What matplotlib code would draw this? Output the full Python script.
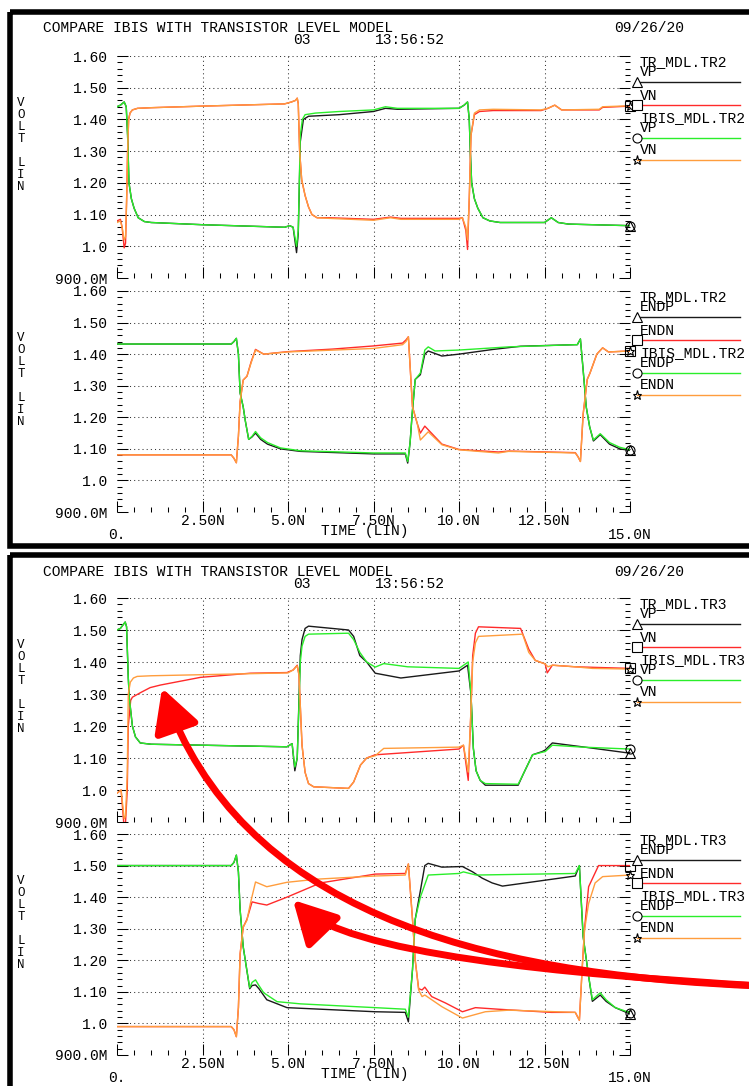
import matplotlib
matplotlib.use("Agg")
import matplotlib.pyplot as plt
from matplotlib.patches import Rectangle, FancyArrowPatch
from matplotlib.path import Path
from matplotlib.lines import Line2D
from matplotlib.ticker import MultipleLocator
from matplotlib.transforms import Affine2D

W, H = 749, 1086
plt.rcParams["font.family"] = ["Liberation Mono", "DejaVu Sans Mono"]

# ---- chart text ----
title = "COMPARE IBIS WITH TRANSISTOR LEVEL MODEL"
date_str = "09/26/20"
time_str = "13:56:52"
run_str = "03"
y_ticks = [0.9, 1.0, 1.1, 1.2, 1.3, 1.4, 1.5, 1.6]
y_labels = ["900.0M", "1.0", "1.10", "1.20", "1.30", "1.40", "1.50", "1.60"]
x_ticks = [0, 2.5, 5.0, 7.5, 10.0, 12.5, 15.0]
x_labels = ["\n0.", "2.50N", "5.0N", "7.50N", "10.0N", "12.50N", "\n15.0N"]

# ---- TR2, VP / VN (ns, V) ----
tr2_vp_t = [0, 0.1, 0.21, 0.27, 0.31, 0.35, 0.42, 0.5, 0.62, 0.8,
            1.0, 2.5, 4.9, 5.05, 5.15, 5.25, 5.3, 5.36, 5.45, 5.6,
            6.5, 7.5, 7.85, 8.2, 10.0, 10.15, 10.25, 10.3, 10.33, 10.37,
            10.45, 10.55, 10.7, 10.9, 11.2, 12.5, 12.7, 12.9, 13.2, 15.0]
tr2_vp_v = [1.44, 1.445, 1.455, 1.44, 1.35, 1.20, 1.15, 1.12, 1.09, 1.078,
            1.075, 1.068, 1.06, 1.065, 1.06, 0.98, 1.04, 1.33, 1.40, 1.41,
            1.415, 1.425, 1.435, 1.432, 1.435, 1.445, 1.455, 1.40, 1.30, 1.20,
            1.15, 1.12, 1.09, 1.08, 1.075, 1.075, 1.09, 1.075, 1.07, 1.065]
ibis2_vp_t = [0, 0.1, 0.21, 0.27, 0.31, 0.35, 0.42, 0.5, 0.62, 0.8,
              1.0, 2.5, 4.9, 5.05, 5.15, 5.25, 5.3, 5.36, 5.42, 5.5,
              5.8, 6.5, 7.5, 7.85, 8.2, 10.0, 10.15, 10.25, 10.3, 10.33,
              10.37, 10.45, 10.55, 10.7, 10.9, 11.2, 12.5, 12.7, 12.9, 13.2, 15.0]
ibis2_vp_v = [1.44, 1.445, 1.455, 1.44, 1.35, 1.20, 1.15, 1.12, 1.09, 1.078,
              1.075, 1.068, 1.06, 1.065, 1.06, 1.0, 1.05, 1.35, 1.40, 1.415,
              1.42, 1.425, 1.43, 1.44, 1.435, 1.435, 1.445, 1.455, 1.40, 1.30,
              1.20, 1.15, 1.12, 1.09, 1.08, 1.075, 1.075, 1.09, 1.075, 1.07, 1.065]
tr2_vn_t = [0, 0.1, 0.15, 0.21, 0.25, 0.28, 0.31, 0.34, 0.38, 0.45,
            0.6, 1.0, 2.5, 4.9, 5.1, 5.22, 5.27, 5.3, 5.34, 5.4,
            5.5, 5.6, 5.7, 5.85, 6.2, 7.5, 8.0, 8.3, 10.0, 10.1,
            10.2, 10.25, 10.3, 10.35, 10.45, 10.6, 11.0, 12.4, 12.6, 12.8,
            13.0, 14.1, 14.2, 15.0]
tr2_vn_v = [1.08, 1.085, 1.06, 0.995, 1.01, 1.14, 1.30, 1.40, 1.42, 1.43,
            1.435, 1.437, 1.442, 1.449, 1.455, 1.46, 1.467, 1.45, 1.30, 1.21,
            1.16, 1.124, 1.10, 1.09, 1.09, 1.085, 1.092, 1.088, 1.088, 1.09,
            1.05, 0.99, 1.15, 1.35, 1.415, 1.425, 1.428, 1.428, 1.435, 1.445,
            1.43, 1.43, 1.438, 1.442]
ibis2_vn_t = tr2_vn_t
ibis2_vn_v = [1.075, 1.08, 1.06, 1.02, 1.03, 1.14, 1.30, 1.40, 1.42, 1.43,
              1.435, 1.437, 1.442, 1.449, 1.455, 1.46, 1.467, 1.45, 1.30, 1.21,
              1.16, 1.124, 1.10, 1.09, 1.088, 1.082, 1.09, 1.085, 1.085, 1.09,
              1.06, 1.02, 1.15, 1.35, 1.42, 1.43, 1.432, 1.43, 1.435, 1.445,
              1.43, 1.432, 1.44, 1.443]

# ---- TR2, ENDP / ENDN ----
tr2_endp_t = [0, 3.34, 3.42, 3.49, 3.55, 3.6, 3.69, 3.75, 3.85, 3.95,
              4.05, 4.2, 4.4, 4.78, 5.36, 7.5, 8.43, 8.5, 8.57, 8.63,
              8.72, 8.87, 9.0, 9.1, 9.5, 10.0, 11.0, 11.8, 13.4, 13.46,
              13.55, 13.63, 13.72, 13.82, 13.93, 14.13, 14.4, 14.7, 15.0]
tr2_endp_v = [1.432, 1.432, 1.44, 1.45, 1.40, 1.277, 1.233, 1.19, 1.13, 1.138,
              1.15, 1.13, 1.115, 1.10, 1.092, 1.084, 1.084, 1.055, 1.12, 1.21,
              1.32, 1.335, 1.40, 1.41, 1.394, 1.40, 1.415, 1.425, 1.43, 1.43,
              1.448, 1.35, 1.233, 1.17, 1.125, 1.145, 1.115, 1.10, 1.095]
ibis2_endp_t = [0, 3.34, 3.42, 3.49, 3.55, 3.6, 3.69, 3.75, 3.85, 3.95,
                4.05, 4.2, 4.4, 4.78, 5.36, 7.5, 8.43, 8.5, 8.57, 8.63,
                8.72, 8.87, 9.0, 9.1, 9.3, 10.0, 11.45, 13.4, 13.46, 13.55,
                13.63, 13.72, 13.82, 13.93, 14.13, 14.4, 14.7, 15.0]
ibis2_endp_v = [1.432, 1.432, 1.44, 1.45, 1.40, 1.277, 1.233, 1.19, 1.13, 1.14,
                1.155, 1.135, 1.12, 1.103, 1.094, 1.087, 1.087, 1.06, 1.12, 1.21,
                1.32, 1.34, 1.413, 1.423, 1.41, 1.413, 1.423, 1.43, 1.43, 1.448,
                1.35, 1.233, 1.17, 1.128, 1.148, 1.12, 1.105, 1.097]
tr2_endn_t = [0, 3.34, 3.42, 3.49, 3.55, 3.6, 3.69, 3.8, 3.92, 4.05,
              4.29, 5.0, 6.3, 7.5, 8.35, 8.45, 8.52, 8.64, 8.78, 8.87,
              9.0, 9.5, 10.0, 11.15, 11.45, 13.4, 13.48, 13.55, 13.63, 13.75,
              13.83, 14.03, 14.2, 14.37, 15.0]
tr2_endn_v = [1.081, 1.081, 1.07, 1.056, 1.14, 1.25, 1.318, 1.33, 1.375, 1.415,
              1.40, 1.408, 1.416, 1.426, 1.435, 1.445, 1.455, 1.233, 1.18, 1.15,
              1.172, 1.115, 1.098, 1.09, 1.093, 1.088, 1.075, 1.06, 1.21, 1.32,
              1.34, 1.40, 1.42, 1.407, 1.41]
ibis2_endn_t = [0, 3.34, 3.42, 3.49, 3.55, 3.6, 3.69, 3.8, 3.92, 4.05,
                4.29, 5.0, 7.5, 8.35, 8.45, 8.52, 8.64, 8.78, 8.87, 9.1,
                9.5, 10.0, 11.15, 11.45, 13.4, 13.48, 13.55, 13.63, 13.75, 13.83,
                14.03, 14.2, 14.37, 15.0]
ibis2_endn_v = [1.081, 1.081, 1.07, 1.056, 1.14, 1.25, 1.318, 1.33, 1.372, 1.413,
                1.40, 1.407, 1.418, 1.43, 1.44, 1.455, 1.233, 1.18, 1.128, 1.154,
                1.113, 1.097, 1.087, 1.092, 1.087, 1.075, 1.06, 1.21, 1.32, 1.34,
                1.40, 1.42, 1.407, 1.41]

# ---- TR3, VP / VN ----
tr3_vp_t = [0, 0.1, 0.24, 0.28, 0.33, 0.36, 0.45, 0.54, 0.68, 1.0,
            2.5, 4.97, 5.12, 5.2, 5.27, 5.36, 5.41, 5.5, 5.6, 6.77,
            6.92, 7.1, 7.3, 7.55, 8.3, 10.0, 10.25, 10.35, 10.42, 10.5,
            10.62, 10.77, 11.73, 11.88, 12.15, 12.43, 12.52, 12.73, 13.6, 15.0]
tr3_vp_v = [1.50, 1.505, 1.525, 1.51, 1.35, 1.288, 1.20, 1.166, 1.147, 1.143,
            1.14, 1.135, 1.145, 1.06, 1.10, 1.42, 1.47, 1.505, 1.512, 1.50,
            1.48, 1.42, 1.40, 1.365, 1.35, 1.372, 1.39, 1.30, 1.13, 1.06,
            1.03, 1.015, 1.015, 1.05, 1.11, 1.12, 1.125, 1.147, 1.135, 1.115]
ibis3_vp_t = [0, 0.1, 0.24, 0.28, 0.33, 0.36, 0.45, 0.54, 0.68, 1.0,
              2.5, 4.97, 5.12, 5.2, 5.27, 5.36, 5.41, 5.5, 5.6, 6.77,
              6.92, 7.1, 7.3, 7.55, 7.8, 8.5, 10.0, 10.27, 10.35, 10.42,
              10.5, 10.62, 10.77, 11.73, 11.88, 12.15, 12.43, 12.52, 12.73, 13.6, 15.0]
ibis3_vp_v = [1.50, 1.505, 1.525, 1.51, 1.35, 1.288, 1.20, 1.166, 1.147, 1.143,
              1.14, 1.135, 1.145, 1.072, 1.10, 1.40, 1.45, 1.48, 1.487, 1.49,
              1.47, 1.43, 1.40, 1.384, 1.395, 1.385, 1.38, 1.40, 1.30, 1.13,
              1.06, 1.03, 1.02, 1.018, 1.05, 1.11, 1.118, 1.12, 1.14, 1.134, 1.128]
tr3_vn_t = [0, 0.12, 0.21, 0.25, 0.3, 0.33, 0.4, 0.45, 0.7, 0.97,
            1.27, 2.44, 3.9, 4.97, 5.15, 5.27, 5.32, 5.41, 5.5, 5.6,
            5.75, 6.77, 6.92, 7.12, 7.3, 7.55, 10.0, 10.13, 10.27, 10.35,
            10.4, 10.48, 10.57, 11.8, 12.04, 12.23, 12.52, 12.58, 12.73, 13.4, 15.0]
tr3_vn_v = [0.99, 1.0, 0.88, 0.90, 1.0, 1.20, 1.28, 1.29, 1.305, 1.32,
            1.328, 1.352, 1.365, 1.367, 1.375, 1.39, 1.36, 1.14, 1.055, 1.02,
            1.01, 1.005, 1.025, 1.078, 1.10, 1.11, 1.128, 1.14, 1.03, 1.25,
            1.42, 1.49, 1.51, 1.505, 1.44, 1.405, 1.394, 1.366, 1.39, 1.385, 1.38]
ibis3_vn_t = [0, 0.12, 0.21, 0.25, 0.3, 0.33, 0.39, 0.48, 0.59, 1.0,
              5.0, 5.15, 5.27, 5.32, 5.41, 5.5, 5.6, 5.75, 6.77, 6.92,
              7.12, 7.3, 7.55, 7.8, 10.0, 10.13, 10.27, 10.35, 10.4, 10.48,
              10.57, 11.86, 12.04, 12.23, 12.52, 12.6, 12.73, 13.4, 13.9, 15.0]
ibis3_vn_v = [0.99, 1.0, 0.91, 0.92, 1.05, 1.30, 1.337, 1.35, 1.355, 1.357,
              1.366, 1.375, 1.388, 1.36, 1.14, 1.055, 1.02, 1.01, 1.005, 1.025,
              1.078, 1.10, 1.107, 1.13, 1.134, 1.14, 1.056, 1.25, 1.40, 1.46,
              1.48, 1.487, 1.43, 1.405, 1.394, 1.385, 1.39, 1.385, 1.38, 1.378]

# ---- TR3, ENDP / ENDN ----
tr3_endp_t = [0, 3.34, 3.42, 3.49, 3.55, 3.6, 3.69, 3.78, 3.88, 3.95,
              4.05, 4.15, 4.38, 4.97, 7.55, 8.43, 8.52, 8.64, 8.72, 8.87,
              9.0, 9.1, 9.5, 10.1, 10.4, 10.68, 10.97, 11.27, 11.94, 13.4,
              13.52, 13.63, 13.79, 13.9, 14.13, 14.3, 14.57, 15.0]
tr3_endp_v = [1.50, 1.50, 1.51, 1.533, 1.48, 1.36, 1.243, 1.18, 1.11, 1.12,
              1.122, 1.11, 1.075, 1.05, 1.037, 1.035, 1.005, 1.17, 1.33, 1.42,
              1.50, 1.507, 1.495, 1.497, 1.48, 1.46, 1.445, 1.435, 1.445, 1.467,
              1.50, 1.275, 1.15, 1.07, 1.09, 1.07, 1.05, 1.03]
ibis3_endp_t = [0, 3.34, 3.42, 3.49, 3.55, 3.6, 3.69, 3.78, 3.88, 3.95,
                4.05, 4.15, 4.29, 4.68, 5.36, 7.55, 8.43, 8.52, 8.64, 8.72,
                8.87, 9.1, 10.0, 10.13, 10.5, 13.4, 13.52, 13.63, 13.79, 13.9,
                14.13, 14.3, 14.57, 15.0]
ibis3_endp_v = [1.50, 1.50, 1.51, 1.533, 1.48, 1.36, 1.243, 1.18, 1.113, 1.13,
                1.138, 1.12, 1.097, 1.069, 1.062, 1.05, 1.045, 1.02, 1.17, 1.33,
                1.40, 1.47, 1.475, 1.48, 1.47, 1.475, 1.50, 1.275, 1.15, 1.075,
                1.097, 1.075, 1.05, 1.034]
tr3_endn_t = [0, 3.34, 3.42, 3.49, 3.55, 3.6, 3.69, 3.8, 3.95, 4.14,
              4.38, 4.97, 5.95, 7.55, 8.43, 8.52, 8.64, 8.72, 8.82, 8.92,
              9.0, 9.2, 9.6, 10.1, 10.48, 11.15, 12.7, 13.4, 13.52, 13.6,
              13.67, 13.79, 14.08, 15.0]
tr3_endn_v = [0.99, 0.99, 0.98, 0.958, 1.05, 1.22, 1.305, 1.33, 1.385, 1.38,
              1.375, 1.40, 1.445, 1.473, 1.475, 1.505, 1.33, 1.20, 1.11, 1.106,
              1.115, 1.085, 1.065, 1.037, 1.05, 1.045, 1.035, 1.035, 1.01, 1.17,
              1.30, 1.433, 1.50, 1.50]
ibis3_endn_t = [0, 3.34, 3.42, 3.49, 3.55, 3.6, 3.69, 3.8, 3.9, 4.05,
                4.38, 4.97, 5.85, 7.55, 8.43, 8.52, 8.64, 8.72, 8.82, 8.92,
                9.0, 9.5, 10.1, 10.77, 11.45, 13.4, 13.52, 13.6, 13.67, 13.79,
                13.98, 14.2, 15.0]
ibis3_endn_v = [0.99, 0.99, 0.98, 0.958, 1.05, 1.22, 1.305, 1.327, 1.38, 1.448,
                1.433, 1.447, 1.457, 1.467, 1.47, 1.505, 1.33, 1.20, 1.106, 1.085,
                1.09, 1.053, 1.017, 1.037, 1.042, 1.035, 1.01, 1.17, 1.296, 1.38,
                1.445, 1.465, 1.47]

# colour + end marker per signal kind, drawn in this order
STYLE = {
    "tr_p": ("#1a1a1a", "^"),
    "tr_n": ("#ff2a2a", "s"),
    "ibis_p": ("#2aee2a", "o"),
    "ibis_n": ("#ff9d3d", "*"),
}

# (axes top px, axes bottom px, tag, signal names, curves, show x labels)
panels = [
    (56, 278, "TR2", ("VP", "VN"),
     {"tr_p": (tr2_vp_t, tr2_vp_v), "tr_n": (tr2_vn_t, tr2_vn_v),
      "ibis_p": (ibis2_vp_t, ibis2_vp_v), "ibis_n": (ibis2_vn_t, ibis2_vn_v)}, False),
    (291, 512, "TR2", ("ENDP", "ENDN"),
     {"tr_p": (tr2_endp_t, tr2_endp_v), "tr_n": (tr2_endn_t, tr2_endn_v),
      "ibis_p": (ibis2_endp_t, ibis2_endp_v), "ibis_n": (ibis2_endn_t, ibis2_endn_v)}, True),
    (598, 822, "TR3", ("VP", "VN"),
     {"tr_p": (tr3_vp_t, tr3_vp_v), "tr_n": (tr3_vn_t, tr3_vn_v),
      "ibis_p": (ibis3_vp_t, ibis3_vp_v), "ibis_n": (ibis3_vn_t, ibis3_vn_v)}, False),
    (834, 1055, "TR3", ("ENDP", "ENDN"),
     {"tr_p": (tr3_endp_t, tr3_endp_v), "tr_n": (tr3_endn_t, tr3_endn_v),
      "ibis_p": (ibis3_endp_t, ibis3_endp_v), "ibis_n": (ibis3_endn_t, ibis3_endn_v)}, True),
]

FS = 10.5
fig = plt.figure(figsize=(W / 100, H / 100), dpi=100)
# image-pixel coordinates (origin top-left)
px = Affine2D().scale(1 / W, -1 / H).translate(0, 1) + fig.transFigure


def ptext(x, y, s, size=FS, **kw):
    fig.text(x, y, s, transform=px, fontsize=size, va="center", **kw)


def legend(top, tag, sigs):
    for dy, s in [(6, "TR_MDL." + tag), (16, sigs[0]), (40, sigs[1]),
                  (62, "IBIS_MDL." + tag), (72, sigs[0]), (94, sigs[1])]:
        ptext(640, top + dy, s)
    for dy, kind in [(26, "tr_p"), (49, "tr_n"), (82, "ibis_p"), (104, "ibis_n")]:
        color, marker = STYLE[kind]
        fig.add_artist(Line2D([637, 740], [top + dy, top + dy], transform=px,
                              color=color, lw=1.0))
        fig.add_artist(Line2D([637], [top + dy], transform=px, marker=marker,
                              ms=6.5, mfc="white" if marker != "*" else "none",
                              mec="black", mew=0.8))


for top, bottom, tag, sigs, curves, show_x in panels:
    ax = fig.add_axes([117 / W, 1 - bottom / H, 513 / W, (bottom - top) / H])
    ax.set_xlim(0, 15)
    ax.set_ylim(0.9, 1.6)
    for sp in ax.spines.values():
        sp.set_visible(False)

    # dotted grid
    for yv in y_ticks[1:]:
        ax.axhline(yv, color="#333333", lw=0.75, ls=(0, (1, 3)), zorder=0)
    for xv in x_ticks[1:-1]:
        ax.axvline(xv, color="#333333", lw=0.75, ls=(0, (1, 3)), zorder=0)

    ax.set_yticks(y_ticks)
    ax.set_yticklabels(y_labels)
    ax.yaxis.set_minor_locator(MultipleLocator(0.02))
    ax.set_xticks(x_ticks)
    ax.xaxis.set_minor_locator(MultipleLocator(0.5))
    ax.tick_params(which="both", direction="in", left=True, right=True,
                   bottom=True, top=False, width=0.75, color="black")
    ax.tick_params(which="major", length=8)
    ax.tick_params(which="minor", length=3.6)
    ax.tick_params(axis="y", labelsize=FS, pad=6.5)
    if show_x:
        ax.set_xticklabels(x_labels)
        ax.tick_params(axis="x", labelsize=FS, pad=1.5)
        for lbl in ax.get_xticklabels():
            lbl.set_linespacing(0.95)
        ptext(365, bottom + 19, "TIME (LIN)", ha="center")
    else:
        ax.tick_params(axis="x", labelbottom=False)

    for kind in ["tr_p", "tr_n", "ibis_p", "ibis_n"]:
        t, v = curves[kind]
        color, marker = STYLE[kind]
        ax.plot(t, v, color=color, lw=1.0, zorder=2)
        ax.plot(t[-1:], v[-1:], ls="none", marker=marker, ms=6.5,
                mfc="none", mec="black", mew=0.8, clip_on=False, zorder=3)

    legend(top, tag, sigs)
    ptext(21, top + 89, "V\nO\nL\nT\n\nL\nI\nN", size=9, ha="center",
          linespacing=1.0)

# headers of the two plot pages
for off in (0, 544):
    ptext(43, 28 + off, title)
    ptext(293, 40 + off, run_str)
    ptext(375, 40 + off, time_str)
    ptext(614, 28 + off, date_str)

# page frames
fig.add_artist(Rectangle((10, 12), 800, 533.5, fill=False, lw=4, ec="black",
                         transform=px))
fig.add_artist(Rectangle((10, 554.5), 800, 600, fill=False, lw=4, ec="black",
                         transform=px))

# red annotation arrows
cubic = [Path.MOVETO, Path.CURVE4, Path.CURVE4, Path.CURVE4]
for verts in ([(762, 986), (470, 975), (240, 908), (162, 688)],
              [(762, 986), (561, 974), (345, 954), (293, 900)]):
    fig.add_artist(FancyArrowPatch(path=Path(verts, cubic),
                                   arrowstyle="-|>,head_length=26,head_width=14",
                                   color="#ff0000", lw=5, transform=px,
                                   zorder=20))

fig.savefig("out.png", dpi=100)
